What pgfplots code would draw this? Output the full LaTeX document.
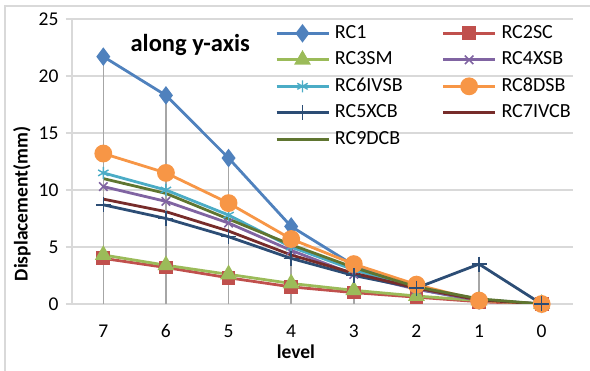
\documentclass[border=0pt]{standalone}
\usepackage{fontspec}
\setmainfont{Carlito}
\usepackage{pgfplots}
\pgfplotsset{compat=1.18}
\definecolor{cA}{HTML}{4F81BD}
\definecolor{cB}{HTML}{C0504D}
\definecolor{cC}{HTML}{9BBB59}
\definecolor{cD}{HTML}{8064A2}
\definecolor{cE}{HTML}{4BACC6}
\definecolor{cF}{HTML}{F79646}
\definecolor{cG}{HTML}{2C4D75}
\definecolor{cH}{HTML}{772C2A}
\definecolor{cI}{HTML}{5F7530}
\definecolor{gridc}{HTML}{D9D9D9}
\definecolor{dropc}{HTML}{A6A6A6}
\begin{document}
\begin{tikzpicture}[x=1pt,y=1pt]
\useasboundingbox (0,0) rectangle (590,371);
\draw[gridc,line width=1.2pt] (5,0) -- (5,365) -- (590,365);
\begin{axis}[
  at={(72pt,67pt)}, anchor=south west,
  scale only axis, width=501pt, height=285pt,
  xmin=-0.5, xmax=7.5, ymin=0, ymax=25,
  xtick={0,...,7}, xticklabels={7,6,5,4,3,2,1,0},
  ytick={0,5,...,25},
  axis lines*=left,
  axis line style={gridc,line width=1.2pt},
  x axis line style={-}, y axis line style={-},
  ymajorgrids, grid style={gridc,line width=1.2pt},
  xtick style={draw=none},
  ytick style={gridc,line width=1.2pt},
  tick align=outside, major tick length=6pt,
  /pgf/number format/assume math mode=true,
  tick label style={font=\fontsize{19.5}{23}\selectfont},
  xticklabel style={yshift=-11pt},
  yticklabel style={xshift=-4pt},
  xlabel={\textbf{level}}, ylabel={\textbf{Displacement(mm)}},
  label style={font=\fontsize{19.5}{23}\selectfont},
  xlabel style={at={(axis description cs:0.447,0)}, anchor=center, yshift=-48pt},
  ylabel style={at={(axis description cs:-0.0998,0.351)}, anchor=center},
  legend columns=2,
  legend cell align=left,
  legend style={at={(axis description cs:0.405,0.982)}, anchor=north west,
    draw=none, fill=none, inner sep=0pt,
    font=\fontsize{20}{24}\selectfont,
    row sep=8.5pt,
    /tikz/every odd column/.append style={column sep=5pt},
    /tikz/every even column/.append style={column sep=39pt},
    nodes={inner sep=0pt, text height=14pt, text depth=4pt}},
  legend image code/.code={\draw[mark repeat=2,mark phase=2] plot coordinates {(0pt,0pt) (26pt,0pt) (52pt,0pt)};},
  every axis plot/.append style={line width=2.8pt},
]
\addplot[cA, mark=diamond*, mark size=7pt, mark options={solid}] coordinates {(0,21.7) (1,18.3) (2,12.8) (3,6.8) (4,3.4) (5,1.3) (6,0.3) (7,0)};
\addlegendentry{RC1}
\addplot[cB, mark=square*, mark size=5.5pt] coordinates {(0,4.0) (1,3.2) (2,2.3) (3,1.5) (4,1.0) (5,0.6) (6,0.2) (7,0)};
\addlegendentry{RC2SC}
\addplot[cC, mark=triangle*, mark size=7pt] coordinates {(0,4.3) (1,3.4) (2,2.6) (3,1.8) (4,1.2) (5,0.7) (6,0.3) (7,0)};
\addlegendentry{RC3SM}
\addplot[cD, mark=x, mark size=6pt, mark options={line width=1.6pt}] coordinates {(0,10.3) (1,9.0) (2,7.1) (3,4.7) (4,2.6) (5,1.3) (6,0.3) (7,0)};
\addlegendentry{RC4XSB}
\addplot[cE, mark=asterisk, mark size=6pt, mark options={line width=1.4pt}] coordinates {(0,11.5) (1,10.0) (2,7.8) (3,5.0) (4,3.0) (5,1.4) (6,0.4) (7,0)};
\addlegendentry{RC6IVSB}
\addplot[cF, mark=*, mark size=7.5pt] coordinates {(0,13.2) (1,11.5) (2,8.85) (3,5.7) (4,3.5) (5,1.7) (6,0.3) (7,0)};
\addlegendentry{RC8DSB}
\addplot[cG, mark=+, mark size=7.5pt, mark options={line width=1.4pt}] coordinates {(0,8.7) (1,7.5) (2,5.9) (3,4.0) (4,2.5) (5,1.4) (6,3.5) (7,0)};
\addlegendentry{RC5XCB}
\addplot[cH, no marks] coordinates {(0,9.2) (1,8.1) (2,6.4) (3,4.3) (4,2.7) (5,1.4) (6,0.35) (7,0)};
\addlegendentry{RC7IVCB}
\addplot[cI, no marks] coordinates {(0,11.0) (1,9.7) (2,7.45) (3,5.2) (4,3.2) (5,1.5) (6,0.45) (7,0)};
\addlegendentry{RC9DCB}
\addplot[ycomb, dropc, line width=1.5pt, no marks, forget plot] coordinates {(0,21.7) (1,18.3) (2,12.8) (3,6.8) (4,3.5) (5,1.7) (6,3.5)};
\node[font=\fontsize{24.5}{29}\selectfont\bfseries] at (axis description cs:0.236,0.909) {along y-axis};
\end{axis}
\end{tikzpicture}
\end{document}
